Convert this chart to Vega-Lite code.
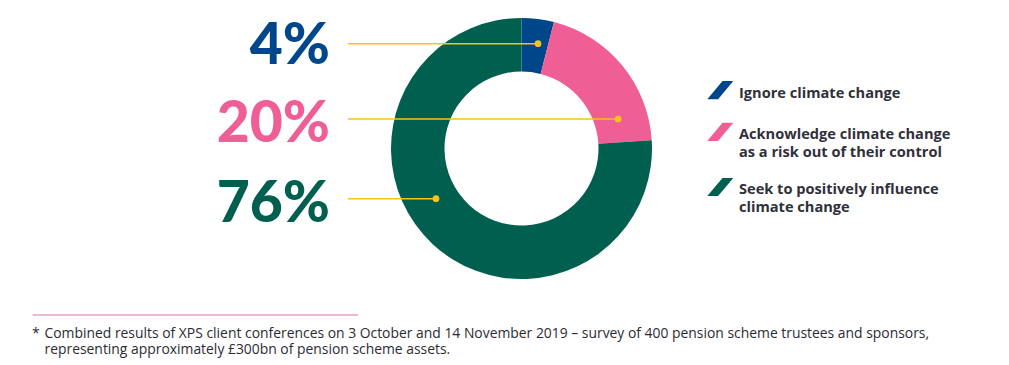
{
  "$schema": "https://vega.github.io/schema/vega-lite/v6.json",
  "width": 1043,
  "height": 297,
  "autosize": {"type": "none"},
  "padding": {"left": 0, "top": 0, "right": 0, "bottom": 68},
  "background": "white",
  "config": {"view": {"stroke": null}},
  "datasets": {
    "shares": [
      {"cat": "Ignore climate change", "value": 4, "label": "4%", "legend": "Ignore climate change"},
      {"cat": "Acknowledge climate change as a risk out of their control", "value": 20, "label": "20%", "legend": "Acknowledge climate change\nas a risk out of their control"},
      {"cat": "Seek to positively influence climate change", "value": 76, "label": "76%", "legend": "Seek to positively influence\nclimate change"}
    ],
    "notes": [
      {"star": "*", "note": "Combined results of XPS client conferences on 3 October and 14 November 2019 – survey of 400 pension scheme trustees and sponsors,\nrepresenting approximately £300bn of pension scheme assets."}
    ]
  },
  "data": {"name": "shares"},
  "layer": [
    {
      "mark": {"type": "arc", "innerRadius": 77, "outerRadius": 130.5},
      "encoding": {
        "theta": {"field": "value", "type": "quantitative", "stack": true},
        "order": {"field": "value", "type": "quantitative", "sort": "ascending"},
        "color": {
          "field": "cat", "type": "nominal", "legend": null,
          "scale": {
            "domain": ["Ignore climate change", "Acknowledge climate change as a risk out of their control", "Seek to positively influence climate change"],
            "range": ["#00468b", "#ef5f96", "#005f4e"]
          }
        }
      }
    },
    {
      "transform": [{"filter": "datum.value == 4"}],
      "layer": [
        {
          "mark": {"type": "rule", "color": "#f5c31c", "strokeWidth": 1.5},
          "encoding": {
            "x": {"datum": 348, "type": "quantitative", "scale": {"domain": [0, 1043], "nice": false, "zero": false}, "axis": null},
            "x2": {"datum": 538},
            "y": {"datum": 43.7, "type": "quantitative", "scale": {"domain": [0, 297], "nice": false, "zero": false, "reverse": true}, "axis": null}
          }
        },
        {
          "mark": {"type": "circle", "color": "#f5c31c", "opacity": 1, "size": 45},
          "encoding": {
            "x": {"datum": 538, "type": "quantitative", "axis": null},
            "y": {"datum": 43.7, "type": "quantitative", "axis": null}
          }
        },
        {
          "mark": {"type": "text", "align": "right", "baseline": "alphabetic", "font": "Lato", "fontSize": 57, "fontWeight": 900},
          "encoding": {
            "x": {"datum": 330, "type": "quantitative", "axis": null},
            "y": {"datum": 64, "type": "quantitative", "axis": null},
            "text": {"field": "label"},
            "color": {"field": "cat", "type": "nominal", "legend": null}
          }
        },
        {
          "mark": {"type": "point", "shape": "M0.17,-0.7L1,-0.7L-0.17,0.7L-1,0.7Z", "size": 676, "filled": true, "opacity": 1},
          "encoding": {
            "x": {"datum": 720.3, "type": "quantitative", "axis": null},
            "y": {"datum": 90.2, "type": "quantitative", "axis": null},
            "color": {"field": "cat", "type": "nominal", "legend": null}
          }
        },
        {
          "mark": {"type": "text", "align": "left", "baseline": "alphabetic", "lineBreak": "\n", "lineHeight": 18, "font": "Open Sans", "fontSize": 14.6, "fontWeight": "bold", "color": "#30303a"},
          "encoding": {
            "x": {"datum": 739, "type": "quantitative", "axis": null},
            "y": {"datum": 97.7, "type": "quantitative", "axis": null},
            "text": {"field": "legend"}
          }
        }
      ]
    },
    {
      "transform": [{"filter": "datum.value == 20"}],
      "layer": [
        {
          "mark": {"type": "rule", "color": "#f5c31c", "strokeWidth": 1.5},
          "encoding": {
            "x": {"datum": 348, "type": "quantitative", "axis": null},
            "x2": {"datum": 618},
            "y": {"datum": 119, "type": "quantitative", "axis": null}
          }
        },
        {
          "mark": {"type": "circle", "color": "#f5c31c", "opacity": 1, "size": 45},
          "encoding": {
            "x": {"datum": 618, "type": "quantitative", "axis": null},
            "y": {"datum": 119, "type": "quantitative", "axis": null}
          }
        },
        {
          "mark": {"type": "text", "align": "right", "baseline": "alphabetic", "font": "Lato", "fontSize": 57, "fontWeight": 900},
          "encoding": {
            "x": {"datum": 330, "type": "quantitative", "axis": null},
            "y": {"datum": 142, "type": "quantitative", "axis": null},
            "text": {"field": "label"},
            "color": {"field": "cat", "type": "nominal", "legend": null}
          }
        },
        {
          "mark": {"type": "point", "shape": "M0.17,-0.7L1,-0.7L-0.17,0.7L-1,0.7Z", "size": 676, "filled": true, "opacity": 1},
          "encoding": {
            "x": {"datum": 720.3, "type": "quantitative", "axis": null},
            "y": {"datum": 131.8, "type": "quantitative", "axis": null},
            "color": {"field": "cat", "type": "nominal", "legend": null}
          }
        },
        {
          "mark": {"type": "text", "align": "left", "baseline": "alphabetic", "lineBreak": "\n", "lineHeight": 18, "font": "Open Sans", "fontSize": 14.6, "fontWeight": "bold", "color": "#30303a"},
          "encoding": {
            "x": {"datum": 739, "type": "quantitative", "axis": null},
            "y": {"datum": 138.7, "type": "quantitative", "axis": null},
            "text": {"field": "legend"}
          }
        }
      ]
    },
    {
      "transform": [{"filter": "datum.value == 76"}],
      "layer": [
        {
          "mark": {"type": "rule", "color": "#f5c31c", "strokeWidth": 1.5},
          "encoding": {
            "x": {"datum": 348, "type": "quantitative", "axis": null},
            "x2": {"datum": 436},
            "y": {"datum": 198.7, "type": "quantitative", "axis": null}
          }
        },
        {
          "mark": {"type": "circle", "color": "#f5c31c", "opacity": 1, "size": 45},
          "encoding": {
            "x": {"datum": 436, "type": "quantitative", "axis": null},
            "y": {"datum": 198.7, "type": "quantitative", "axis": null}
          }
        },
        {
          "mark": {"type": "text", "align": "right", "baseline": "alphabetic", "font": "Lato", "fontSize": 57, "fontWeight": 900},
          "encoding": {
            "x": {"datum": 330, "type": "quantitative", "axis": null},
            "y": {"datum": 222, "type": "quantitative", "axis": null},
            "text": {"field": "label"},
            "color": {"field": "cat", "type": "nominal", "legend": null}
          }
        },
        {
          "mark": {"type": "point", "shape": "M0.17,-0.7L1,-0.7L-0.17,0.7L-1,0.7Z", "size": 676, "filled": true, "opacity": 1},
          "encoding": {
            "x": {"datum": 720.3, "type": "quantitative", "axis": null},
            "y": {"datum": 187, "type": "quantitative", "axis": null},
            "color": {"field": "cat", "type": "nominal", "legend": null}
          }
        },
        {
          "mark": {"type": "text", "align": "left", "baseline": "alphabetic", "lineBreak": "\n", "lineHeight": 18, "font": "Open Sans", "fontSize": 14.6, "fontWeight": "bold", "color": "#30303a"},
          "encoding": {
            "x": {"datum": 739, "type": "quantitative", "axis": null},
            "y": {"datum": 194, "type": "quantitative", "axis": null},
            "text": {"field": "legend"}
          }
        }
      ]
    },
    {
      "data": {"name": "notes"},
      "layer": [
        {
          "mark": {"type": "rule", "color": "#d4709f", "strokeWidth": 1},
          "encoding": {
            "x": {"datum": 32.7, "type": "quantitative", "axis": null},
            "x2": {"datum": 358},
            "y": {"datum": 315, "type": "quantitative", "axis": null}
          }
        },
        {
          "mark": {"type": "text", "align": "left", "baseline": "alphabetic", "font": "Open Sans", "fontSize": 13.9, "color": "#2b2b33"},
          "encoding": {
            "x": {"datum": 32, "type": "quantitative", "axis": null},
            "y": {"datum": 338.3, "type": "quantitative", "axis": null},
            "text": {"field": "star"}
          }
        },
        {
          "mark": {"type": "text", "align": "left", "baseline": "alphabetic", "lineBreak": "\n", "lineHeight": 16, "font": "Open Sans", "fontSize": 13.9, "color": "#2b2b33"},
          "encoding": {
            "x": {"datum": 44.5, "type": "quantitative", "axis": null},
            "y": {"datum": 338.3, "type": "quantitative", "axis": null},
            "text": {"field": "note"}
          }
        }
      ]
    }
  ]
}
